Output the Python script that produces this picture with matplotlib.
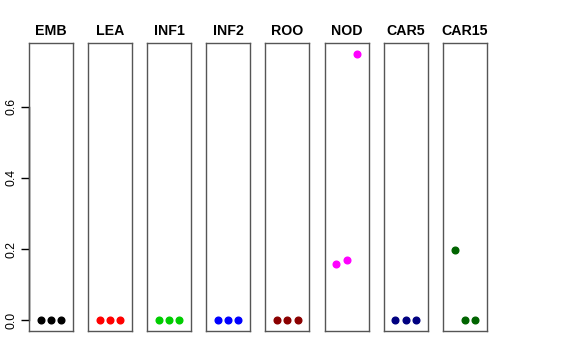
import matplotlib
matplotlib.use("Agg")
import matplotlib.pyplot as plt

plt.rcParams['font.family'] = ['Liberation Sans', 'DejaVu Sans']

tissues = ["EMB", "LEA", "INF1", "INF2", "ROO", "NOD", "CAR5", "CAR15"]
colors = ["#000000", "#FF0000", "#00CD00", "#0000FF", "#8B0000", "#FF00FF", "#000080", "#006400"]
x_pos = [1, 2, 3]
EMB = [0.0, 0.0, 0.0]
LEA = [0.0, 0.0, 0.0]
INF1 = [0.0, 0.0, 0.0]
INF2 = [0.0, 0.0, 0.0]
ROO = [0.0, 0.0, 0.0]
NOD = [0.158, 0.169, 0.749]
CAR5 = [0.0, 0.0, 0.0]
CAR15 = [0.197, 0.0, 0.0]
values = [EMB, LEA, INF1, INF2, ROO, NOD, CAR5, CAR15]
yticks = [0.0, 0.2, 0.4, 0.6]
ytick_labels = ["0.0", "0.2", "0.4", "0.6"]

W, H = 576, 360
fig = plt.figure(figsize=(W / 100, H / 100), dpi=100)

ymax = max(max(v) for v in values)
ymin = 0.0
ext = (ymax - ymin) * 0.04
xext = 4 * 0.04

left0, step, pw = 29, 59.1, 44
top, bottom = 43, 331
for i, (name, col, vals) in enumerate(zip(tissues, colors, values)):
    l = left0 + i * step
    ax = fig.add_axes([l / W, (H - bottom) / H, pw / W, (bottom - top) / H])
    ax.plot(x_pos, vals, 'o', color=col, ms=4.8, mec=col)
    ax.set_xlim(0 - xext, 4 + xext)
    ax.set_ylim(ymin - ext, ymax + ext)
    ax.set_xticks([])
    for s in ax.spines.values():
        s.set_color("#555555")
        s.set_linewidth(1.0)
    ax.set_title(name, fontsize=10.2, fontweight='bold', pad=6)
    if i == 0:
        ax.set_yticks(yticks)
        ax.set_yticklabels(ytick_labels, rotation=90, va='center', fontsize=8.8)
        ax.tick_params(axis='y', length=5.5, width=1, pad=3)
        ax.plot([0 - xext, 0 - xext], [yticks[0], yticks[-1]], color='black', lw=1, clip_on=False)
    else:
        ax.set_yticks([])

fig.savefig("out.png", dpi=100)
